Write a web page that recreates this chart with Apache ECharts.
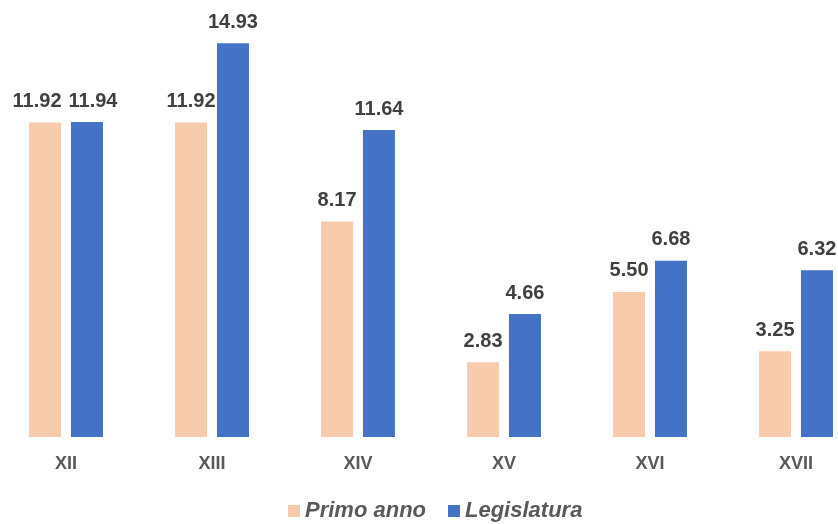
<!DOCTYPE html>
<html><head><meta charset="utf-8">
<script src="https://cdn.jsdelivr.net/npm/echarts@6/dist/echarts.min.js"></script>
<style>html,body{margin:0;padding:0;background:#fff}#c{width:838px;height:524px}</style>
</head><body><div id="c"></div>
<script>
const categories = ["XII","XIII","XIV","XV","XVI","XVII"];
const primoAnno = [11.92, 11.92, 8.17, 2.83, 5.50, 3.25];
const legislatura = [11.94, 14.93, 11.64, 4.66, 6.68, 6.32];
const seriesNames = ["Primo anno","Legislatura"];

const chart = echarts.init(document.getElementById('c'));
const lbl = {show:true, position:'top', distance:11, color:'#404040', fontFamily:'Liberation Sans, Arial', fontWeight:'bold', fontSize:20, formatter: p => p.value.toFixed(2)};
// first group's labels are nudged apart (as in the original) to avoid overlap
const withNudge = (arr, dx) => arr.map((v, i) => i === 0 ? {value: v, label: {offset: [dx, 0]}} : v);
chart.setOption({
  animation:false,
  grid:{left:66, right:42, top:15, bottom:87, containLabel:false},
  legend:{top:495, left:283, itemWidth:12, itemHeight:12, itemGap:22, icon:'rect',
    textStyle:{color:'#595959', fontFamily:'Liberation Sans, Arial', fontWeight:'bold', fontStyle:'italic', fontSize:22},
    data:seriesNames},
  xAxis:{type:'category', boundaryGap:false, data:categories, axisLine:{show:false}, axisTick:{show:false},
    axisLabel:{color:'#595959', fontFamily:'Liberation Sans, Arial', fontWeight:'bold', fontSize:18, margin:18}},
  yAxis:{type:'value', min:0, max:16, show:false, splitLine:{show:false}},
  series:[
    {name:seriesNames[0], type:'bar', clip:false, data:withNudge(primoAnno, -8), barWidth:32, barGap:'31%', itemStyle:{color:'#F8CBAD'}, label:lbl},
    {name:seriesNames[1], type:'bar', clip:false, data:withNudge(legislatura, 6), barWidth:32, itemStyle:{color:'#4472C4'}, label:lbl}
  ]
});
</script></body></html>
